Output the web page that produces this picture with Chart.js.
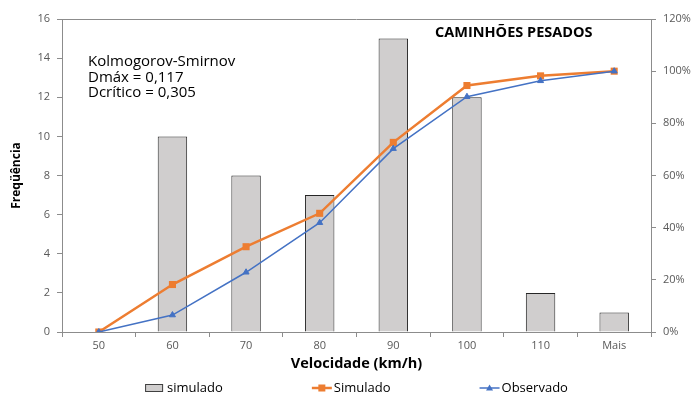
<!DOCTYPE html>
<html lang="pt-BR">
<head>
<meta charset="utf-8">
<title>Caminhões pesados – distribuição de velocidades</title>
<script src="https://cdn.jsdelivr.net/npm/chart.js@4/dist/chart.umd.min.js"></script>
<style>
  html, body { margin: 0; padding: 0; background: #ffffff; }
  #wrap { width: 695px; height: 395px; }
</style>
</head>
<body>
<div id="wrap"><canvas id="grafico" width="695" height="395"></canvas></div>
<script>
// Classes de velocidade (km/h)
const categorias = ['50', '60', '70', '80', '90', '100', '110', 'Mais'];
// Frequência simulada por classe (barras)
const frequenciaSimulada = [0, 10, 8, 7, 15, 12, 2, 1];
// Frequência acumulada (%)
const acumuladoSimulado = [0, 18.2, 32.7, 45.5, 72.7, 94.5, 98.2, 100];
const acumuladoObservado = [0, 6.5, 22.9, 41.9, 70.3, 90.2, 96.3, 100];
// Escalas
const freqMax = 16, freqPasso = 2;
const pctMax = 120, pctPasso = 20;
// Textos
const tituloGrafico = 'CAMINHÕES PESADOS';
const textoKS = ['Kolmogorov-Smirnov', 'Dmáx = 0,117', 'Dcrítico = 0,305'];
const tituloX = 'Velocidade (km/h)';
const tituloY = 'Freqüência';

const FONTE = "'Open Sans', 'Liberation Sans', sans-serif";
const COR_EIXO = '#8c8c8c';
const COR_TICK = '#595959';
const COR_BARRA = '#d0cece';
const COR_LARANJA = '#ed7d31';
const COR_AZUL = '#4472c4';

// Moldura superior da área de plotagem, anotações e legenda
const extras = {
  id: 'extras',
  afterDraw(chart) {
    const { ctx, chartArea: a } = chart;
    ctx.save();
    // linha superior da moldura
    ctx.strokeStyle = COR_EIXO;
    ctx.lineWidth = 1;
    ctx.beginPath();
    ctx.moveTo(a.left, a.top + 0.5);
    ctx.lineTo(a.right, a.top + 0.5);
    ctx.stroke();

    // título dentro da área do gráfico
    ctx.fillStyle = '#000';
    ctx.font = 'bold 14.5px ' + FONTE;
    ctx.textAlign = 'center';
    ctx.textBaseline = 'middle';
    ctx.fillText(tituloGrafico, a.left + (a.right - a.left) * 0.767, a.top + 14);

    // resultado do teste de Kolmogorov-Smirnov
    ctx.font = '15px ' + FONTE;
    ctx.textAlign = 'left';
    textoKS.forEach((t, i) => ctx.fillText(t, a.left + 26, a.top + 43 + i * 15.5));

    // legenda: barras primeiro, depois as curvas acumuladas
    const itens = chart.data.datasets.slice()
      .sort((p, q) => q.order - p.order)
      .map(ds => ({ ds, texto: ds.label }));
    ctx.font = '13px ' + FONTE;
    const simbolo = 20, folga = 2, gap = 89;
    const larguras = itens.map(it => simbolo + folga + ctx.measureText(it.texto).width);
    const total = larguras.reduce((s, w) => s + w, 0) + gap * (itens.length - 1);
    let x = (a.left + a.right) / 2 - total / 2;
    const y = 388;
    itens.forEach((it, i) => {
      const ds = it.ds;
      if (ds.type === 'bar') {
        ctx.fillStyle = ds.backgroundColor;
        ctx.fillRect(x, y - 4, 18, 8);
        ctx.strokeStyle = '#404040';
        ctx.lineWidth = 1;
        ctx.strokeRect(x + 0.5, y - 3.5, 17, 7);
      } else {
        ctx.strokeStyle = ds.borderColor;
        ctx.lineWidth = ds.borderWidth;
        ctx.beginPath();
        ctx.moveTo(x, y);
        ctx.lineTo(x + simbolo, y);
        ctx.stroke();
        ctx.fillStyle = ds.borderColor;
        const cx = x + simbolo / 2;
        if (ds.pointStyle === 'rect') {
          ctx.fillRect(cx - 3.5, y - 3.5, 7, 7);
        } else {
          ctx.beginPath();
          ctx.moveTo(cx, y - 3.5);
          ctx.lineTo(cx + 3.5, y + 2.5);
          ctx.lineTo(cx - 3.5, y + 2.5);
          ctx.closePath();
          ctx.fill();
        }
      }
      ctx.fillStyle = '#000';
      ctx.textAlign = 'left';
      ctx.textBaseline = 'middle';
      ctx.fillText(it.texto, x + simbolo + folga, y);
      x += larguras[i] + gap;
    });
    ctx.restore();
  }
};

new Chart(document.getElementById('grafico'), {
  data: {
    labels: categorias,
    datasets: [
      {
        type: 'line',
        label: 'Observado',
        data: acumuladoObservado,
        yAxisID: 'y1',
        borderColor: COR_AZUL,
        backgroundColor: COR_AZUL,
        borderWidth: 1.5,
        pointStyle: 'triangle',
        pointRadius: 3.5,
        pointBorderWidth: 1,
        tension: 0,
        order: 1
      },
      {
        type: 'line',
        label: 'Simulado',
        data: acumuladoSimulado,
        yAxisID: 'y1',
        borderColor: COR_LARANJA,
        backgroundColor: COR_LARANJA,
        borderWidth: 2.5,
        pointStyle: 'rect',
        pointRadius: 5,
        pointBorderWidth: 0,
        tension: 0,
        order: 2
      },
      {
        type: 'bar',
        label: 'simulado',
        data: frequenciaSimulada,
        yAxisID: 'y',
        backgroundColor: COR_BARRA,
        borderColor: '#262626',
        borderWidth: 1,
        borderSkipped: 'bottom',
        categoryPercentage: 1,
        barPercentage: 0.4,
        order: 3
      }
    ]
  },
  options: {
    responsive: false,
    animation: false,
    layout: { padding: { left: 9, right: 0, top: 19, bottom: 22 } },
    plugins: {
      legend: { display: false },
      tooltip: { enabled: false }
    },
    scales: {
      x: {
        offset: true,
        grid: { offset: true, drawOnChartArea: false, color: COR_EIXO, tickLength: 5 },
        border: { color: COR_EIXO },
        ticks: { color: COR_TICK, font: { family: FONTE, size: 11 }, padding: 2, maxRotation: 0 },
        title: { display: true, text: tituloX, color: '#000', font: { family: FONTE, size: 14.5, weight: 'bold' }, padding: 0 },
        afterFit(s) { s.height = 41; }
      },
      y: {
        position: 'left',
        min: 0, max: freqMax,
        grid: { drawOnChartArea: false, color: COR_EIXO, tickLength: 5 },
        border: { color: COR_EIXO },
        ticks: { stepSize: freqPasso, color: COR_TICK, font: { family: FONTE, size: 11 }, padding: 7 },
        title: { display: true, text: tituloY, color: '#000', font: { family: FONTE, size: 12, weight: 'bold' }, padding: 0 },
        afterFit(s) { s.width = 53; }
      },
      y1: {
        position: 'right',
        min: 0, max: pctMax,
        grid: { drawOnChartArea: false, color: COR_EIXO, tickLength: 5 },
        border: { color: COR_EIXO },
        ticks: { stepSize: pctPasso, color: COR_TICK, font: { family: FONTE, size: 11 }, padding: 7, callback: v => v + '%' },
        afterFit(s) { s.width = 44; }
      }
    }
  },
  plugins: [extras]
});
</script>
</body>
</html>
